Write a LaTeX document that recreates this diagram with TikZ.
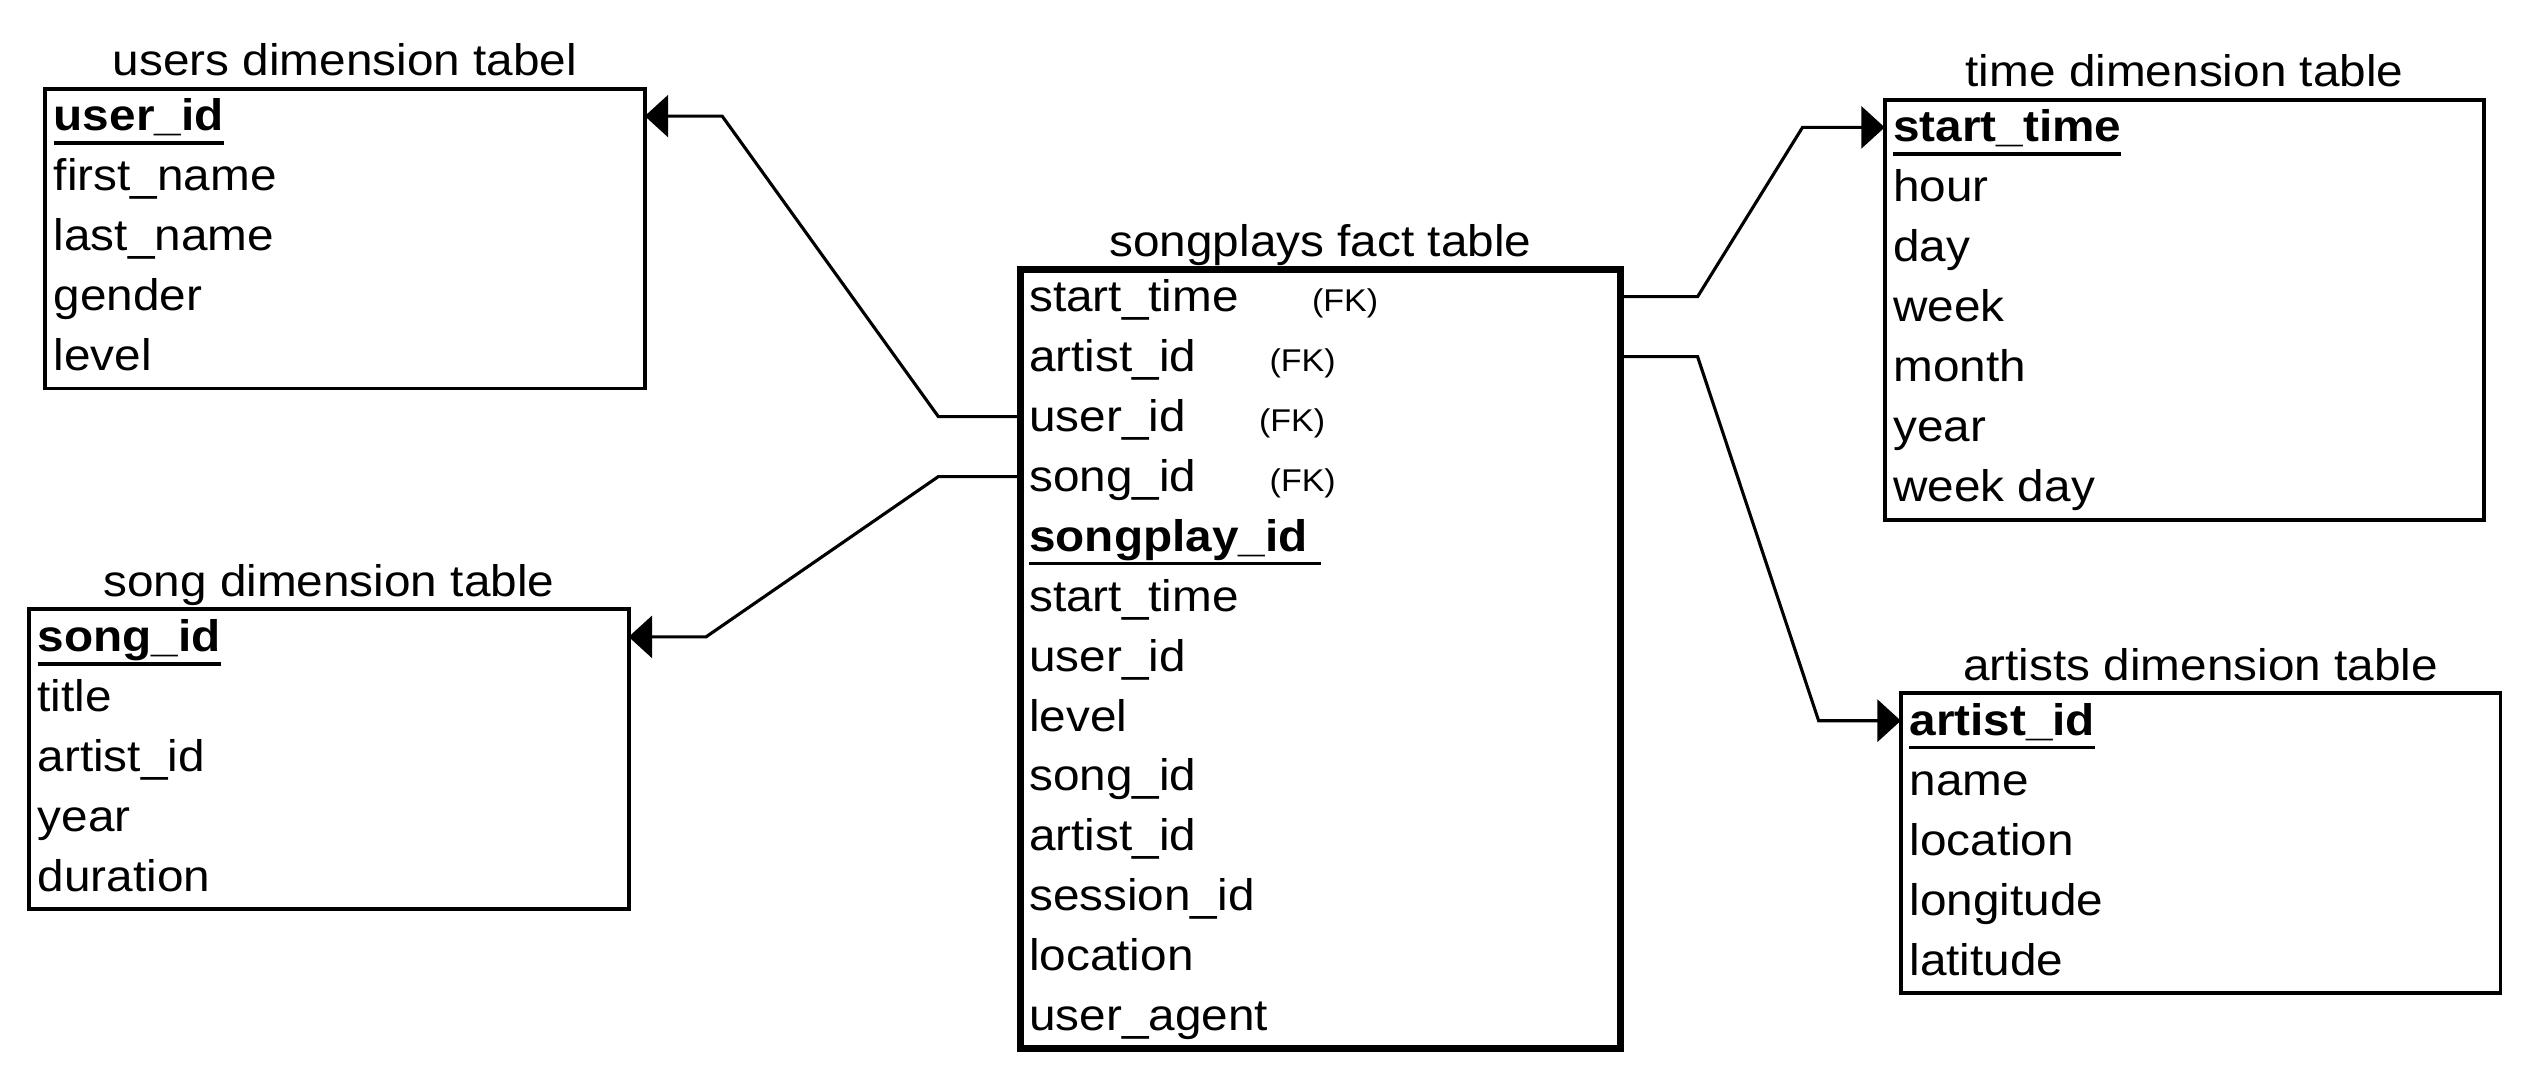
\documentclass[tikz,border=0pt]{standalone}
\usepackage{fontspec}
\setmainfont[FakeStretch=1.08]{Liberation Sans}
\usetikzlibrary{calc,arrows.meta}
\newcommand\pk[1]{\setbox0\hbox{\textbf{#1}}\leavevmode\rlap{\rule[-5pt]{\wd0}{1.3pt}}\box0}
\newcommand\fk{\hspace{0.91cm}{\fontsize{11.1}{13}\selectfont(FK)}}

\begin{document}
\begin{tikzpicture}[x=0.02cm,y=-0.02cm,
	font=\fontsize{15.6}{18}\selectfont,
	tbl/.style={draw,line width=1.4pt,minimum width=7.44cm,inner sep=0pt,outer sep=0pt,anchor=north west},
	facttbl/.style={tbl,line width=2.4pt},
	ttl/.style={anchor=base,inner sep=0pt},
	fld/.style={anchor=base west,inner sep=0pt,text height=14pt,text depth=3.76pt},
	rel/.style={line width=1.1pt,-{Triangle[length=0.29cm,width=0.52cm]}}]
			%%%%% START %%%%%
			\def\rowh{37.2}
			\useasboundingbox (0,0) rectangle (1568,670);
			
			\node[tbl,minimum height=3.72cm] (users) at (28,55) {};
			\node[ttl] (users-title) at ([yshift=4.6pt]users.north) {users dimension tabel};
			\foreach \txt [count=\i from 0] in {{\pk{user\_id}},first\_name,last\_name,gender,level}
				\node[fld] (users-\i) at (33,81+\i*\rowh) {\txt};
			
			\node[tbl,minimum height=3.72cm] (songs) at (18,378) {};
			\node[ttl] (songs-title) at ([yshift=4.6pt]songs.north) {song dimension table};
			\foreach \txt [count=\i from 0] in {{\pk{song\_id}},title,artist\_id,year,duration}
				\node[fld] (songs-\i) at (23,404+\i*\rowh) {\txt};
			
			\node[facttbl,minimum height=9.672cm] (songplays) at (633,167) {};
			\node[ttl] (songplays-title) at ([yshift=4.6pt]songplays.north) {songplays fact table};
			\foreach \txt [count=\i from 0] in {{start\_time\fk},{artist\_id\fk},{user\_id\fk},{song\_id\fk},{\pk{songplay\_id\ }},start\_time,user\_id,level,song\_id,artist\_id,session\_id,location,user\_agent}
				\node[fld] (songplays-\i) at (638,193+\i*\rowh) {\txt};
			
			\node[tbl,minimum height=5.208cm] (time) at (1169,62) {};
			\node[ttl] (time-title) at ([yshift=4.6pt]time.north) {time dimension table};
			\foreach \txt [count=\i from 0] in {{\pk{start\_time}},hour,day,week,month,year,week day}
				\node[fld] (time-\i) at (1174,88+\i*\rowh) {\txt};
			
			\node[tbl,minimum height=3.72cm] (artists) at (1179,430) {};
			\node[ttl] (artists-title) at ([yshift=4.6pt]artists.north) {artists dimension table};
			\foreach \txt [count=\i from 0] in {{\pk{artist\_id}},name,location,longitude,latitude}
				\node[fld] (artists-\i) at (1184,456+\i*\rowh) {\txt};
			
			\draw[rel] (songplays.west |- songplays-2) -- ++(-51,0) -- ($(users.east |- users-0)+(48,0)$) -- (users.east |- users-0);
			\draw[rel] (songplays.west |- songplays-3) -- ++(-51,0) -- ($(songs.east |- songs-0)+(48,0)$) -- (songs.east |- songs-0);
			\draw[rel] (songplays.east |- songplays-0) -- ++(48,0) -- ($(time.west |- time-0)+(-51,0)$) -- (time.west |- time-0);
			\draw[rel] (songplays.east |- songplays-1) -- ++(48,0) -- ($(artists.west |- artists-0)+(-51,0)$) -- (artists.west |- artists-0);
			%%%%% END %%%%%
\end{tikzpicture}
\end{document}
